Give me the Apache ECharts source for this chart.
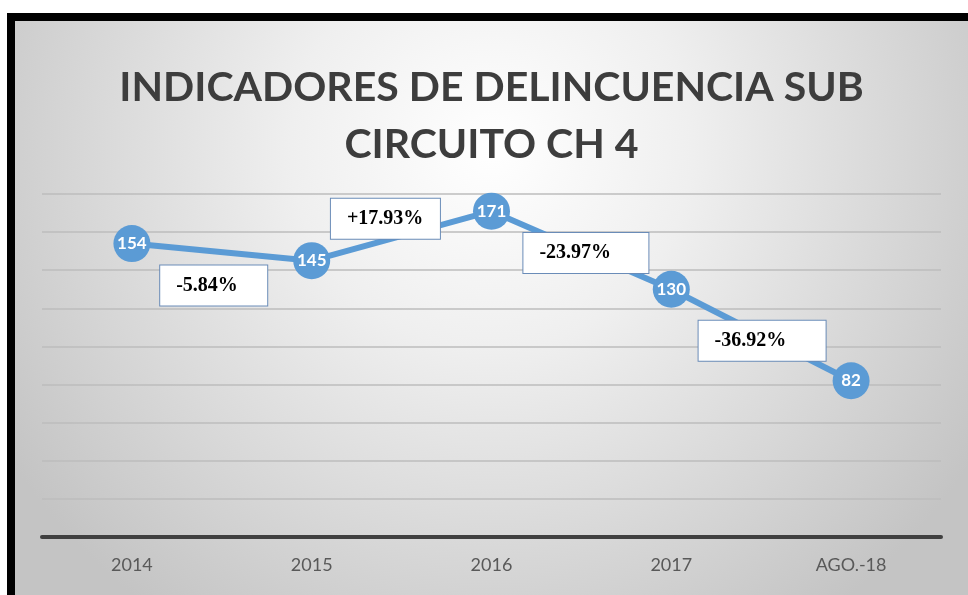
<!DOCTYPE html>
<html>
<head>
    <meta charset="UTF-8">
    <script src="https://cdn.jsdelivr.net/npm/echarts@6/dist/echarts.min.js"></script>
    <title>Indicadores de delincuencia</title>
    <style>
        body { margin: 0; background: #fff; overflow: hidden; }
        #frame {
            position: absolute; left: 7px; top: 13px;
            width: 970px; height: 600px;
            border-left: 8px solid #000; border-top: 8px solid #000;
        }
        #chart { position: absolute; left: 15px; top: 21px; width: 953px; height: 574px; }
    </style>
</head>
<body>
    <div id="frame"></div>
    <div id="chart"></div>
<script>
    // datos
    const years = ['2014', '2015', '2016', '2017', 'AGO.-18'];
    const delitos = [154, 145, 171, 130, 82];
    const variacion = ['-5.84%', '+17.93%', '-23.97%', '-36.92%'];
    // donde va cada cuadro de variacion (indice de categoria, valor)
    const varPos = [[0.455, 132], [1.41, 167], [2.525, 149], [3.505, 103]];
    // ancho de cada cuadro (px)
    const boxW = [107, 109, 125, 127];

    var chart = echarts.init(document.getElementById('chart'), null, { renderer: 'canvas' });

    var option = {
        backgroundColor: {
            type: 'radial', x: 0.5, y: 0.22, r: 1.0,
            colorStops: [
                { offset: 0, color: '#ffffff' },
                { offset: 0.35, color: '#efefef' },
                { offset: 1, color: '#c4c4c4' }
            ]
        },
        title: {
            text: 'INDICADORES DE DELINCUENCIA SUB\nCIRCUITO CH 4',
            left: 'center',
            top: 33,
            textStyle: {
                fontFamily: 'Lato', fontWeight: 'bold', fontSize: 41,
                lineHeight: 57, color: '#3d3d3d'
            }
        },
        grid: { left: 27, right: 27, top: 173, bottom: 58 },
        xAxis: [{
            type: 'category',
            data: years,
            axisTick: { show: false },
            axisLine: { lineStyle: { color: '#404040', width: 4 } },
            axisLabel: { color: '#595959', fontFamily: 'Lato', fontSize: 18, margin: 19 }
        }, {
            type: 'value', min: -0.5, max: 4.5, show: false
        }],
        yAxis: {
            type: 'value', min: 0, max: 180, interval: 20,
            axisLabel: { show: false },
            axisLine: { show: false },
            axisTick: { show: false },
            splitLine: { lineStyle: { color: '#bcbcbc', width: 1.5 } }
        },
        series: [{
            type: 'line',
            data: delitos,
            symbol: 'circle',
            symbolSize: 37,
            lineStyle: { color: '#5b9bd5', width: 6 },
            itemStyle: { color: '#5b9bd5' },
            label: {
                show: true, position: 'inside', color: '#fff',
                fontFamily: 'Lato', fontWeight: 'bold', fontSize: 17
            },
            z: 2
        }, {
            type: 'scatter',
            xAxisIndex: 1,
            data: varPos.map((p, i) => ({
                value: p, name: variacion[i],
                label: { width: boxW[i] - 33, offset: [-boxW[i] / 2, 0] }
            })),
            symbolSize: 1,
            itemStyle: { color: 'rgba(0,0,0,0)', opacity: 1 },
            label: {
                show: true, position: 'inside', opacity: 1,
                formatter: p => p.name,
                fontFamily: 'Liberation Serif', fontWeight: 'bold', fontSize: 20,
                color: '#000', backgroundColor: '#fff',
                borderColor: '#6a8cb8', borderWidth: 1,
                align: 'left',
                padding: [8, 17, 12, 16]
            },
            emphasis: { disabled: true },
            z: 5
        }]
    };

    chart.setOption(option);
</script>
</body>
</html>
